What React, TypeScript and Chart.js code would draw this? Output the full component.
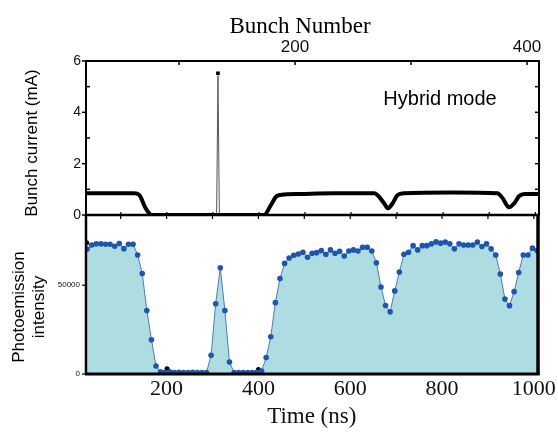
import React, { useEffect, useRef } from 'react';
import { Chart, registerables } from 'chart.js';

Chart.register(...registerables);

// ---------- data ----------
// Photoemission intensity (lower panel), sampled every 10 ns
const timeNs = [27, 37, 47, 57, 67, 77, 87, 97, 107, 117, 127, 137, 147, 157, 167, 177, 187, 197, 207, 217, 227, 237, 247, 257, 267, 277, 287, 297, 307, 317, 327, 337, 347, 357, 367, 377, 387, 397, 407, 417, 427, 437, 447, 457, 467, 477, 487, 497, 507, 517, 527, 537, 547, 557, 567, 577, 587, 597, 607, 617, 627, 637, 647, 657, 667, 677, 687, 697, 707, 717, 727, 737, 747, 757, 767, 777, 787, 797, 807, 817, 827, 837, 847, 857, 867, 877, 887, 897, 907, 917, 927, 937, 947, 957, 967, 977, 987, 997, 1007];
const intensity = [70450, 72700, 73300, 73300, 73100, 73100, 72000, 73500, 70600, 73100, 73100, 67000, 56600, 35800, 19300, 4500, 1200, 900, 1300, 800, 900, 800, 800, 900, 800, 800, 800, 10600, 39600, 59800, 35800, 6800, 800, 800, 800, 800, 800, 900, 1700, 9300, 21000, 40200, 53800, 62300, 65300, 66900, 67600, 68600, 65700, 68000, 68350, 69500, 67450, 69900, 68000, 69150, 66450, 69300, 69900, 69300, 71400, 71400, 69300, 62700, 49000, 38600, 35000, 46800, 57400, 67450, 68600, 72300, 69900, 72300, 72300, 73300, 74400, 73700, 74300, 73300, 70500, 73300, 72700, 72700, 72700, 74300, 71800, 73300, 70500, 67000, 56300, 42200, 38500, 46400, 57200, 67000, 67000, 70900, 69500];

// extra black markers in lower panel
const blackTime = [26, 201, 400];
const blackVal = [74000, 3000, 2600];

// Bunch current (upper panel)
const currentTime = [26, 129, 140, 154, 161, 165, 411, 426, 437, 447, 491, 563, 650, 657, 672, 680, 690, 701, 715, 817, 918, 929, 943, 954, 965, 976, 1008];
const currentMA = [0.85, 0.85, 0.78, 0.26, 0.08, 0, 0, 0.39, 0.71, 0.78, 0.82, 0.85, 0.85, 0.78, 0.45, 0.26, 0.45, 0.78, 0.85, 0.88, 0.85, 0.65, 0.3, 0.45, 0.74, 0.82, 0.82];

// single hybrid bunch spike
const spikeTime = [308, 311, 314];
const spikeMA = [0, 5.42, 0];
const spikeMarkerTime = [311];
const spikeMarkerMA = [5.52];

// axes
const timeMin = 24.5;
const timeMax = 1008;
const timeTicks = [200, 400, 600, 800, 1000];
const timeMinorTicks = [100, 200, 300, 400, 500, 600, 700, 800, 900, 1000];
const bunchMin = 19.8;
const bunchMax = 410.3;
const bunchTicks = [100, 200, 300, 400];
const bunchLabels = [200, 400];
const currentMax = 6;
const currentTicks = [0, 2, 4, 6];
const currentMinorTicks = [1, 3, 5];
const intensityMax = 89000;
const intensityTicks = [0, 50000];

const SANS = '"Liberation Sans", Arial, sans-serif';
const SERIF = '"Liberation Serif", "Times New Roman", serif';

function seg(ctx: CanvasRenderingContext2D, x1: number, y1: number, x2: number, y2: number, w: number) {
  ctx.lineWidth = w;
  ctx.beginPath();
  ctx.moveTo(x1, y1);
  ctx.lineTo(x2, y2);
  ctx.stroke();
}

const setTicks = (vals: number[]) => (s: any) => { s.ticks = vals.map((v) => ({ value: v })); };

const topDecor = {
  id: 'topDecor',
  afterDraw(chart: any) {
    const ctx = chart.ctx as CanvasRenderingContext2D;
    const a = chart.chartArea;
    const xs = chart.scales.x;
    const ys = chart.scales.y;
    const xt = chart.scales.xTop;
    ctx.save();
    ctx.strokeStyle = '#000';
    // frame
    seg(ctx, a.left, a.top, a.right, a.top, 2);
    seg(ctx, a.left, a.top - 1, a.left, a.bottom, 2);
    seg(ctx, a.right, a.top - 1, a.right, a.bottom, 2);
    seg(ctx, a.left - 1, a.bottom, a.right + 1, a.bottom, 2.5);
    for (const v of currentTicks) { const p = ys.getPixelForValue(v); seg(ctx, a.left - 4, p, a.left, p, 1.5); }
    for (const v of currentMinorTicks) { const p = ys.getPixelForValue(v); seg(ctx, a.left, p, a.left + 4, p, 1.5); }
    for (const v of [1, 2, 3, 4, 5]) { const p = ys.getPixelForValue(v); seg(ctx, a.right - 4, p, a.right, p, 1.5); }
    for (const b of bunchTicks) { const p = xt.getPixelForValue(b); seg(ctx, p, a.top, p, a.top + 4, 1.5); }
    for (const t of timeMinorTicks) { const p = xs.getPixelForValue(t); seg(ctx, p, a.bottom - 3, p, a.bottom, 1.2); }
    ctx.fillStyle = '#000';
    ctx.textAlign = 'center';
    ctx.textBaseline = 'alphabetic';
    ctx.font = `23px ${SERIF}`;
    ctx.fillText('Bunch Number', 300, 33);
    ctx.font = `20px ${SANS}`;
    ctx.fillText('Hybrid mode', 440, 105);
    ctx.save();
    ctx.translate(32, 143);
    ctx.rotate(-Math.PI / 2);
    ctx.textBaseline = 'middle';
    ctx.font = `17px ${SANS}`;
    ctx.fillText('Bunch current (mA)', 0, 0);
    ctx.restore();
    ctx.restore();
  },
};

const botDecor = {
  id: 'botDecor',
  afterDraw(chart: any) {
    const ctx = chart.ctx as CanvasRenderingContext2D;
    const a = chart.chartArea;
    const xs = chart.scales.x;
    const ys = chart.scales.y;
    ctx.save();
    ctx.strokeStyle = '#000';
    seg(ctx, a.left, a.top - 1, a.left, a.bottom + 1, 2.5);
    seg(ctx, a.left - 1, a.bottom, a.right + 2, a.bottom, 3);
    seg(ctx, a.right + 0.5, a.top - 2, a.right + 0.5, a.bottom + 1, 3.5);
    for (const t of timeMinorTicks) { const p = xs.getPixelForValue(t); seg(ctx, p, a.top - 1, p, a.top + 3, 1.2); }
    for (const v of intensityTicks) { const p = ys.getPixelForValue(v); seg(ctx, a.left - 4, p, a.left, p, 1.2); }
    ctx.fillStyle = '#000';
    ctx.textAlign = 'center';
    ctx.textBaseline = 'middle';
    ctx.font = `17px ${SANS}`;
    ctx.save();
    ctx.translate(19, 307);
    ctx.rotate(-Math.PI / 2);
    ctx.fillText('Photoemission', 0, 0);
    ctx.restore();
    ctx.save();
    ctx.translate(39, 307);
    ctx.rotate(-Math.PI / 2);
    ctx.fillText('intensity', 0, 0);
    ctx.restore();
    ctx.restore();
  },
};

export default function App() {
  const topRef = useRef<HTMLCanvasElement | null>(null);
  const botRef = useRef<HTMLCanvasElement | null>(null);

  useEffect(() => {
    Chart.defaults.color = '#000';
    Chart.defaults.font.family = SANS;

    const currentData = currentTime.map((t, i) => ({ x: t, y: currentMA[i] }));
    const spikeData = spikeTime.map((t, i) => ({ x: t, y: spikeMA[i] }));
    const spikeMarker = spikeMarkerTime.map((t, i) => ({ x: t, y: spikeMarkerMA[i] }));
    const peData = timeNs.map((t, i) => ({ x: t, y: intensity[i] }));
    const blackData = blackTime.map((t, i) => ({ x: t, y: blackVal[i] }));

    const top = new Chart(topRef.current as HTMLCanvasElement, {
      type: 'line',
      data: {
        datasets: [
          { data: spikeMarker, showLine: false, pointStyle: 'rect', pointRadius: 2.6, pointBackgroundColor: '#000', pointBorderWidth: 0, xAxisID: 'x', yAxisID: 'y' } as any,
          { data: spikeData, borderColor: '#555', borderWidth: 1, pointRadius: 0, tension: 0, xAxisID: 'x', yAxisID: 'y' },
          { data: currentData, borderColor: '#000', borderWidth: 4, pointRadius: 0, cubicInterpolationMode: 'monotone', borderJoinStyle: 'round', xAxisID: 'x', yAxisID: 'y' } as any,
        ],
      },
      options: {
        responsive: false,
        animation: false,
        layout: { padding: { left: 0, right: 19, top: 0, bottom: 220 } },
        plugins: { legend: { display: false }, tooltip: { enabled: false } },
        scales: {
          x: { type: 'linear', display: false, min: timeMin, max: timeMax },
          xTop: {
            type: 'linear', position: 'top', min: bunchMin, max: bunchMax,
            grid: { display: false, drawTicks: false },
            border: { display: false },
            afterBuildTicks: setTicks(bunchTicks),
            ticks: {
              autoSkip: false, maxRotation: 0, padding: 3,
              font: { size: 17, family: SANS }, color: '#111',
              callback: (v: any) => (bunchLabels.includes(Number(v)) ? String(v) : ''),
            },
            afterFit: (s: any) => { s.height = 61; },
          } as any,
          y: {
            type: 'linear', position: 'left', min: 0, max: currentMax,
            grid: { display: false, drawTicks: false },
            border: { display: false },
            afterBuildTicks: setTicks(currentTicks),
            ticks: { padding: 5, font: { size: 14, family: SANS }, color: '#111', callback: (v: any) => String(v) },
            afterFit: (s: any) => { s.width = 86; },
          } as any,
        },
      },
      plugins: [topDecor],
    });

    const bot = new Chart(botRef.current as HTMLCanvasElement, {
      type: 'line',
      data: {
        datasets: [
          {
            data: peData, borderColor: '#4f78c0', borderWidth: 1, tension: 0,
            backgroundColor: '#addde1', fill: 'origin',
            pointRadius: 2.8, pointBackgroundColor: '#1b56b0', pointBorderWidth: 0,
            xAxisID: 'x', yAxisID: 'y',
          },
          { data: blackData, showLine: false, pointRadius: 2.5, pointBackgroundColor: '#000', pointBorderWidth: 0, xAxisID: 'x', yAxisID: 'y' },
        ],
      },
      options: {
        responsive: false,
        animation: false,
        layout: { padding: { left: 0, right: 19, top: 216, bottom: 0 } },
        plugins: { legend: { display: false }, tooltip: { enabled: false } },
        scales: {
          x: {
            type: 'linear', position: 'bottom', min: timeMin, max: timeMax,
            grid: { display: false, drawTicks: false },
            border: { display: false },
            afterBuildTicks: setTicks(timeTicks),
            ticks: { autoSkip: false, maxRotation: 0, padding: 2, font: { size: 22, family: SERIF }, color: '#111', callback: (v: any) => String(v) },
            title: { display: true, text: 'Time (ns)', font: { size: 23, family: SERIF }, color: '#111', padding: { top: 0, bottom: 4 } },
            afterFit: (s: any) => { s.height = 61; },
          } as any,
          y: {
            type: 'linear', position: 'left', min: 0, max: intensityMax,
            grid: { display: false, drawTicks: false },
            border: { display: false },
            afterBuildTicks: setTicks(intensityTicks),
            ticks: { padding: 6, font: { size: 8, family: SANS }, color: '#111', callback: (v: any) => String(v) },
            afterFit: (s: any) => { s.width = 86; },
          } as any,
        },
      },
      plugins: [botDecor],
    });

    return () => { top.destroy(); bot.destroy(); };
  }, []);

  return (
    <div style={{ position: 'absolute', left: 0, top: 0, width: 558, height: 435, background: '#fff' }}>
      <canvas ref={topRef} width={558} height={435} style={{ position: 'absolute', left: 0, top: 0 }} />
      <canvas ref={botRef} width={558} height={435} style={{ position: 'absolute', left: 0, top: 0 }} />
    </div>
  );
}
